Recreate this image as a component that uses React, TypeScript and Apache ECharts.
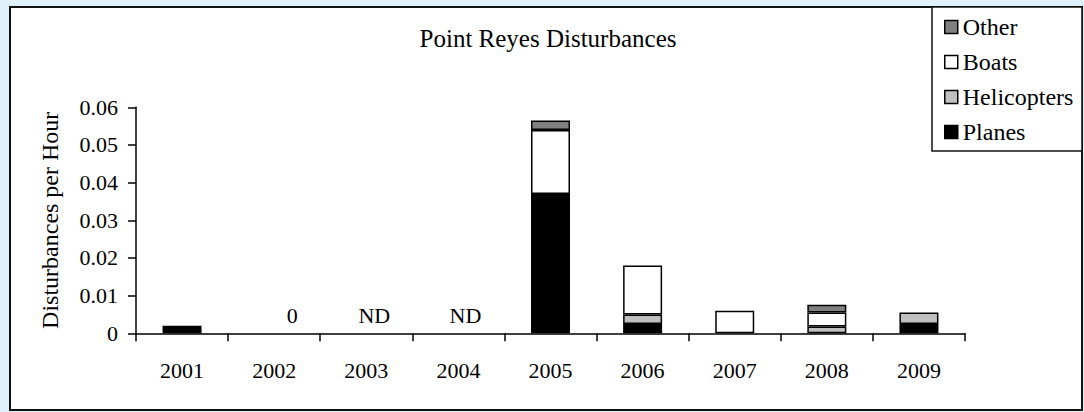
import React, { useEffect, useRef } from "react";
import * as echarts from "echarts";

const years = ["2001", "2002", "2003", "2004", "2005", "2006", "2007", "2008", "2009"];
const planes = [0.002, null, null, null, 0.037, 0.0025, null, null, 0.0025];
const helicopters = [null, null, null, null, null, 0.0025, null, 0.0018, 0.003];
const boats = [null, null, null, null, 0.017, 0.013, 0.006, 0.0037, null];
const other = [null, null, null, null, 0.0025, null, null, 0.0021, null];
const noteLabels = ["", "0", "ND", "ND", "", "", "", "", ""];
const noteOffsetsX = [0, 18, 8, 7, 0, 0, 0, 0, 0];
const yTicks = [0, 0.01, 0.02, 0.03, 0.04, 0.05, 0.06];

const FONT = "'Liberation Serif', 'Times New Roman', serif";

export default function App() {
  const ref = useRef<HTMLDivElement>(null);
  useEffect(() => {
    document.body.style.margin = "0";
    document.body.style.background = "#dff1fb";
    const chart = echarts.init(ref.current!, null, { renderer: "svg" });
    const barStyle = (color: string) => ({
      color,
      borderColor: "#000",
      borderWidth: 1.5,
    });
    const mk = (name: string, data: (number | null)[], color: string) => ({
      name,
      type: "bar",
      stack: "total",
      barWidth: 39,
      data: data.map((v) => (v === null ? "-" : v)),
      itemStyle: barStyle(color),
    });
    chart.setOption({
      animation: false,
      backgroundColor: "#dff1fb",
      textStyle: { fontFamily: FONT },
      graphic: [
        {
          type: "rect",
          shape: { x: 10, y: 7, width: 1072, height: 403 },
          style: { fill: "#fff", stroke: "#111", lineWidth: 2 },
          z: -10,
          silent: true,
        },
        {
          type: "rect",
          shape: { x: 932, y: 7, width: 150, height: 144 },
          style: { fill: "#fff", stroke: "#111", lineWidth: 1.5 },
          z: -5,
          silent: true,
        },
      ],
      title: {
        text: "Point Reyes Disturbances",
        left: 548,
        top: 26,
        textAlign: "center",
        padding: 0,
        textStyle: { fontFamily: FONT, fontSize: 25, fontWeight: "normal", color: "#000" },
      },
      legend: {
        orient: "vertical",
        left: 944,
        top: 15,
        padding: 0,
        itemWidth: 13,
        itemHeight: 13,
        itemGap: 11,
        icon: "rect",
        data: [
          { name: "Other", itemStyle: barStyle("#808080") },
          { name: "Boats", itemStyle: barStyle("#ffffff") },
          { name: "Helicopters", itemStyle: barStyle("#c0c0c0") },
          { name: "Planes", itemStyle: barStyle("#000000") },
        ],
        textStyle: { fontFamily: FONT, fontSize: 24, lineHeight: 24, color: "#000" },
      },
      grid: { left: 136, right: 119, top: 107.3, bottom: 78.7, containLabel: false },
      xAxis: {
        type: "category",
        data: years,
        axisLine: { lineStyle: { color: "#000", width: 1.5 } },
        axisTick: { show: true, length: 8, lineStyle: { color: "#000", width: 1.5 } },
        axisLabel: { fontFamily: FONT, fontSize: 22, color: "#000", margin: 26 },
      },
      yAxis: {
        type: "value",
        min: 0,
        max: 0.06,
        interval: 0.01,
        name: "Disturbances per Hour",
        nameLocation: "middle",
        nameGap: 74,
        nameTextStyle: { fontFamily: FONT, fontSize: 24, color: "#000" },
        splitLine: { show: false },
        axisLine: { show: true, lineStyle: { color: "#000", width: 1.5 } },
        axisTick: { show: true, length: 8, lineStyle: { color: "#000", width: 1.5 } },
        axisLabel: {
          fontFamily: FONT,
          fontSize: 22,
          color: "#000",
          margin: 18,
          formatter: (v: number) => {
            const t = yTicks.find((x) => Math.abs(x - v) < 1e-9);
            const val = t === undefined ? v : t;
            return val === 0 ? "0" : val.toFixed(2);
          },
        },
      },
      series: [
        mk("Planes", planes, "#000000"),
        mk("Helicopters", helicopters, "#c0c0c0"),
        mk("Boats", boats, "#ffffff"),
        mk("Other", other, "#808080"),
        {
          name: "notes",
          type: "scatter",
          symbolSize: 0,
          silent: true,
          itemStyle: { opacity: 1 },
          data: noteLabels.map((t, i) => ({
            value: t ? 0 : "-",
            label: {
              show: !!t,
              formatter: t,
              position: "inside",
              offset: [noteOffsetsX[i], -18],
              fontFamily: FONT,
              fontSize: 22,
              color: "#000",
              opacity: 1,
            },
          })),
        },
      ],
    });
    return () => chart.dispose();
  }, []);
  return (
    <div
      ref={ref}
      style={{ position: "fixed", left: 0, top: 0, width: 1084, height: 412 }}
    />
  );
}
